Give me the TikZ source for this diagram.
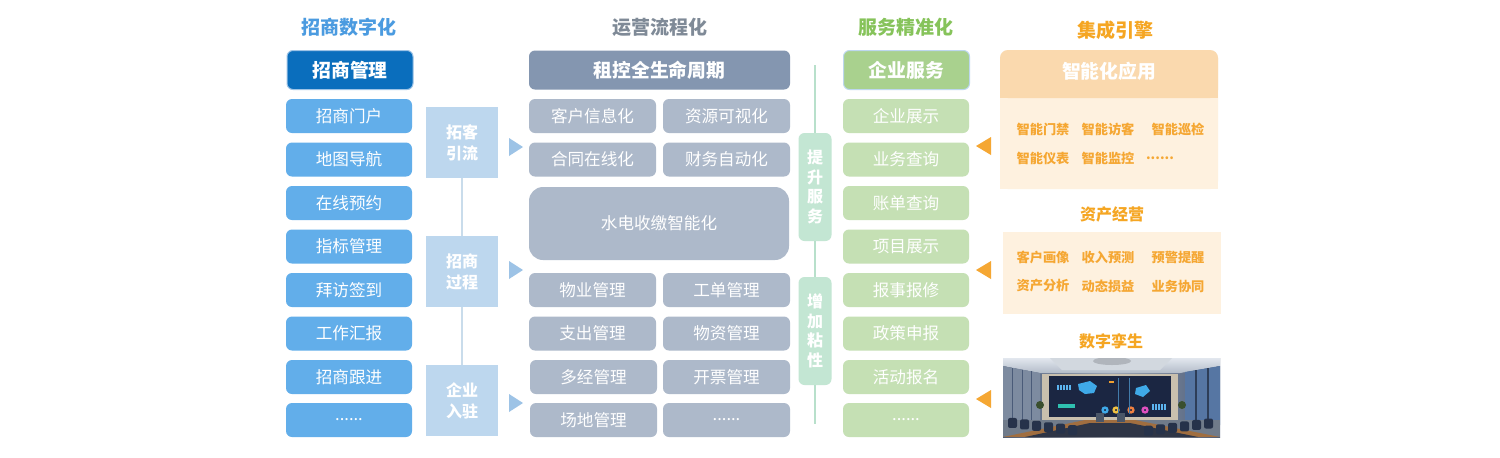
\documentclass[tikz,border=0pt]{standalone}
\usepackage{fontspec}
\setmainfont{Noto Sans CJK SC}
\usetikzlibrary{positioning}
\definecolor{tA}{HTML}{4B9BE0}
\definecolor{tB}{HTML}{7F8A97}
\definecolor{tC}{HTML}{86C35A}
\definecolor{tD}{HTML}{F5A623}
\definecolor{hA}{HTML}{0A6EBD}
\definecolor{iA}{HTML}{62AEEA}
\definecolor{mA}{HTML}{BDD7EE}
\definecolor{trA}{HTML}{9DC3E6}
\definecolor{hB}{HTML}{8496B0}
\definecolor{iB}{HTML}{ADB9CA}
\definecolor{hC}{HTML}{A9D18E}
\definecolor{iC}{HTML}{C5E0B4}
\definecolor{sC}{HTML}{C3E6D3}
\definecolor{lC}{HTML}{B8E0CB}
\definecolor{hD}{HTML}{FAD9AE}
\definecolor{bD}{HTML}{FEF1DF}
\definecolor{oD}{HTML}{F5A733}
\definecolor{lineA}{HTML}{C9DCEB}
% picture colours
\definecolor{pWall}{HTML}{4A5B78}
\definecolor{pWallM}{HTML}{98A2B2}
\definecolor{pCeilT}{HTML}{E2E7EE}
\definecolor{pCeilB}{HTML}{B3BCC9}
\definecolor{pCeilP}{HTML}{D2D8DF}
\definecolor{pLamp}{HTML}{B0B5BC}
\definecolor{pSideW}{HTML}{7D8BA0}
\definecolor{pWin}{HTML}{5676A3}
\definecolor{pWinL}{HTML}{2E3E58}
\definecolor{pFrame}{HTML}{C9C0AE}
\definecolor{pScr}{HTML}{1B2642}
\definecolor{pBlue}{HTML}{3FA9E8}
\definecolor{pBlueL}{HTML}{5CB4F0}
\definecolor{pTeal}{HTML}{2FC0B0}
\definecolor{pOr}{HTML}{F0A030}
\definecolor{pYel}{HTML}{F0C040}
\definecolor{pRed}{HTML}{F08040}
\definecolor{pPink}{HTML}{E050C0}
\definecolor{pPlant}{HTML}{3A4F2E}
\definecolor{pFloor}{HTML}{707B8A}
\definecolor{pWood}{HTML}{A06E40}
\definecolor{pTable}{HTML}{2E3546}
\definecolor{pChair}{HTML}{26324A}
\definecolor{pChairB}{HTML}{4A5668}
\tikzset{
  x=0.5pt, y=-0.5pt,
  coltitle/.style={font=\fontsize{9.5}{11}\selectfont\bfseries, inner sep=0pt},
  hdr/.style={rounded corners=3pt, minimum width=63pt, minimum height=19.5pt, inner sep=0pt,
              text=white, font=\fontsize{9.4}{11}\selectfont\bfseries},
  itm/.style={rounded corners=3pt, minimum width=63pt, minimum height=17pt, inner sep=0pt,
              text=white, font=\fontsize{8.3}{10}\selectfont},
  itmB/.style={itm, minimum width=63.5pt},
  midbox/.style={fill=mA, minimum width=36pt, minimum height=35.5pt, inner sep=0pt, align=center,
              text=white, font=\fontsize{8}{10.5}\selectfont\bfseries},
  sidebox/.style={fill=sC, rounded corners=3pt, minimum width=16.5pt, inner sep=0pt, align=center,
              text=white, font=\fontsize{8}{9.8}\selectfont\bfseries},
  otxt/.style={text=oD, inner sep=0pt, font=\fontsize{6.6}{8}\selectfont\bfseries},
  subtitle/.style={text=tD, inner sep=0pt, font=\fontsize{8}{10}\selectfont\bfseries},
}
\begin{document}
\begin{tikzpicture}
\useasboundingbox[fill=white] (0,0) rectangle (1500,457);

% ---------- column titles ----------
\node[coltitle, text=tA] (t1) at (349,27) {招商数字化};
\node[coltitle, text=tB] (t2) at (660,27) {运营流程化};
\node[coltitle, text=tC] (t3) at (906,27) {服务精准化};
\node[coltitle, text=tD] (t4) at (1115,30) {集成引擎};

% ---------- column 1 ----------
\node[hdr, fill=hA, draw=trA, line width=0.5pt] (h1) at (350,70) {招商管理};
\foreach \t/\y [count=\i] in {招商门户/116, 地图导航/159.5, 在线预约/203, 指标管理/246.5,
                    拜访签到/290, 工作汇报/333.5, 招商跟进/377}{
  \node[itm, fill=iA] (a\i) at (349,\y) {\t};
}
\node[itm, fill=iA] (a8) at (349,420) {......};

% ---------- mid boxes ----------
\node[midbox] (m1) at (462,142.5) {拓客\\引流};
\node[midbox] (m2) at (462,271.5) {招商\\过程};
\node[midbox] (m3) at (462,400.5) {企业\\入驻};
\draw[lineA, line width=0.8pt] (m1.south) -- (m2.north);
\draw[lineA, line width=0.8pt] (m2.south) -- (m3.north);
\fill[trA] (509,138) -- (523,147) -- (509,156) -- cycle;
\fill[trA] (509,261) -- (523,270) -- (509,279) -- cycle;
\fill[trA] (509,394) -- (523,403) -- (509,412) -- cycle;

% ---------- column 2 ----------
\node[hdr, fill=hB, minimum width=130.5pt] (h2) at (659.5,70) {租控全生命周期};
\node[itmB, fill=iB] (b1) at (592.5,116) {客户信息化};
\node[itmB, fill=iB] (b2) at (726.5,116) {资源可视化};
\node[itmB, fill=iB] (b3) at (592.5,159.5) {合同在线化};
\node[itmB, fill=iB] (b4) at (726.5,159.5) {财务自动化};
\node[itm, fill=iB, rounded corners=7pt, minimum width=130pt, minimum height=36.5pt] (b5) at (659,223.5) {水电收缴智能化};
\node[itmB, fill=iB] (b6) at (592.5,290) {物业管理};
\node[itmB, fill=iB] (b7) at (726.5,290) {工单管理};
\node[itmB, fill=iB] (b8) at (592.5,333.5) {支出管理};
\node[itmB, fill=iB] (b9) at (726.5,333.5) {物资管理};
\node[itmB, fill=iB] (b10) at (593.5,377) {多经管理};
\node[itmB, fill=iB] (b11) at (726.5,377) {开票管理};
\node[itmB, fill=iB] (b12) at (593.5,420) {场地管理};
\node[itmB, fill=iB] (b13) at (726.5,420) {......};

% ---------- side boxes ----------
\coordinate (s0) at (815,65);
\coordinate (s3) at (815,424);
\node[sidebox, minimum height=54pt] (s1) at (815,187) {提\\升\\服\\务};
\node[sidebox, minimum height=54pt] (s2) at (815,331) {增\\加\\粘\\性};
\draw[lC, line width=1pt] (s0) -- (s1.north);
\draw[lC, line width=1pt] (s1.south) -- (s2.north);
\draw[lC, line width=1pt] (s2.south) -- (s3);

% ---------- column 3 ----------
\node[hdr, fill=hC, draw=mA, line width=0.5pt] (h3) at (906.5,70) {企业服务};
\foreach \t/\y [count=\i] in {企业展示/116, 业务查询/159.5, 账单查询/203, 项目展示/246.5,
                    报事报修/290, 政策申报/333.5, 活动报名/377}{
  \node[itm, fill=iC] (c\i) at (906,\y) {\t};
}
\node[itm, fill=iC] (c8) at (906,420) {......};

% ---------- column 4 ----------
\fill[bD, rounded corners=4pt] (1000,50) rectangle (1218,189);
\fill[bD] (1000,98) rectangle (1218,189);
\fill[hD, rounded corners=4pt] (1000,50) rectangle (1218,98);
\fill[hD] (1000,80) rectangle (1218,98);
\node[text=white, inner sep=0pt, font=\fontsize{9.4}{11}\selectfont\bfseries] (h4) at (1109,71) {智能化应用};
\node[otxt] (d1) at (1043,129) {智能门禁};
\node[otxt] (d2) at (1108,129) {智能访客};
\node[otxt] (d3) at (1178,129) {智能巡检};
\node[otxt] (d4) at (1043,158) {智能仪表};
\node[otxt] (d5) at (1108,158) {智能监控};
\node[otxt] (d6) at (1160,158) {......};
\fill[oD] (991,137) -- (976,146) -- (991,155) -- cycle;

\node[subtitle] (st1) at (1112,214) {资产经营};
\fill[bD] (1003,232) rectangle (1221,314);
\node[otxt] (e1) at (1043,257) {客户画像};
\node[otxt] (e2) at (1108,257) {收入预测};
\node[otxt] (e3) at (1178,257) {预警提醒};
\node[otxt] (e4) at (1043,286) {资产分析};
\node[otxt] (e5) at (1108,286) {动态损益};
\node[otxt] (e6) at (1178,286) {业务协同};
\fill[oD] (991,261) -- (976,270) -- (991,279) -- cycle;

\node[subtitle] (st2) at (1111,341) {数字孪生};
\fill[oD] (991,390) -- (976,399) -- (991,408) -- cycle;

% ---------- digital twin picture ----------
\begin{scope}
\clip (1003,358) rectangle (1220,437);
\shade[left color=pWall, right color=pWall, middle color=pWallM] (1003,358) rectangle (1220,437);
\shade[top color=pCeilT, bottom color=pCeilB] (1003,358) -- (1220,358) -- (1220,366) -- (1180,373) -- (1040,373) -- (1003,366) -- cycle;
\fill[pCeilP] (1050,358) -- (1172,358) -- (1160,370) -- (1062,370) -- cycle;
\fill[pLamp] (1112,361) ellipse (19 and 4);
\fill[pSideW] (1003,366) -- (1040,373) -- (1040,420) -- (1003,425) -- cycle;
\draw[pWall, line width=0.5pt] (1012,368) -- (1012,423) (1022,370) -- (1022,422) (1031,371) -- (1031,421);
\fill[pWin] (1185,372) -- (1220,366) -- (1220,425) -- (1185,420) -- cycle;
\draw[pWinL, line width=0.6pt] (1196,370) -- (1196,422) (1208,368) -- (1208,424);
\fill[pFrame] (1042,374) rectangle (1178,420);
\fill[pScr] (1049,376) rectangle (1171,417);
\fill[pBlue] (1078,384) -- (1090,381) -- (1097,386) -- (1094,393) -- (1085,394) -- (1079,390) -- cycle;
\fill[pBlue] (1136,388) -- (1146,385) -- (1150,391) -- (1143,397) -- (1135,394) -- cycle;
\foreach \xx in {1057,1060,1063,1066,1069}{\fill[pBlueL] (\xx,385) rectangle ++(1.6,5);}
\foreach \xx in {1152,1155,1158,1161,1164}{\fill[pBlueL] (\xx,404) rectangle ++(1.6,6);}
\fill[pTeal] (1058,404) rectangle (1075,408);
\fill[pOr] (1109,381) rectangle (1114,383);
\foreach \xx/\cc in {1105/pBlue,1116/pYel,1131/pRed,1145/pPink}{
  \draw[\cc, line width=1.2pt] (\xx,410) circle (2.4);}
\draw[pBlueL!60!pScr, line width=0.4pt] (1118,378) -- (1118,414) (1129,378) -- (1129,414);
\fill[pPlant] (1040,405) circle (4);
\fill[pPlant] (1182,405) circle (4);
\fill[pFloor] (1003,420) rectangle (1220,437);
\fill[pWood] (1003,437) -- (1085,420) -- (1135,420) -- (1220,437) -- cycle;
\fill[pTable] (1025,437) -- (1090,423) -- (1130,423) -- (1198,437) -- cycle;
\foreach \xx in {1008,1020,1032,1044,1056,1068}{\fill[pChair, rounded corners=1pt] (\xx,418+0.12*\xx-121) rectangle ++(9,10);}
\foreach \xx in {1144,1156,1168,1180,1192,1204}{\fill[pChair, rounded corners=1pt] (\xx,418-0.12*\xx+145) rectangle ++(9,10);}
\fill[pChairB] (1096,413) rectangle (1104,422);
\fill[pChairB] (1117,413) rectangle (1125,422);
\end{scope}
\end{tikzpicture}
\end{document}
